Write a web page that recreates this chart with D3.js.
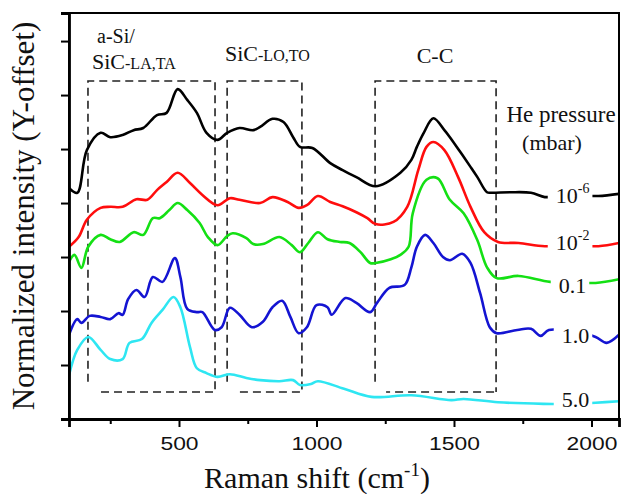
<!DOCTYPE html>
<html>
<head>
<meta charset="utf-8">
<script src="https://cdn.jsdelivr.net/npm/d3@7"></script>
<style>
  body { margin: 0; background: #fff; }
  svg { display: block; }
  .serif { font-family: "Liberation Serif", "Times New Roman", serif; fill: #111; }
</style>
</head>
<body>
<svg id="chart"></svg>
<script>
const WIDTH = 622;
const HEIGHT = 494;
const margin = { top: 13, right: 3, bottom: 75, left: 69 };

// [Raman shift (cm-1), normalized intensity with offset]
const black = [
  [100, 4.28], [130, 4.19], [165, 4.98], [215, 5.30], [250, 5.22], [295, 5.26], [335, 5.35],
  [370, 5.39], [420, 5.63], [455, 5.67], [495, 6.11], [530, 5.91], [565, 5.67], [600, 5.30],
  [640, 5.17], [675, 5.30], [720, 5.39], [770, 5.35], [795, 5.41], [840, 5.56], [880, 5.50],
  [915, 5.22], [940, 5.04], [985, 5.02], [1050, 4.74], [1095, 4.61], [1145, 4.48], [1215, 4.31],
  [1305, 4.56], [1345, 4.80], [1365, 5.04], [1390, 5.30], [1425, 5.57], [1465, 5.35], [1485, 5.22],
  [1525, 4.93], [1560, 4.67], [1585, 4.48], [1620, 4.20], [1635, 4.19], [1705, 4.20], [1780, 4.19],
  [1830, 4.11], [1865, 4.13], [1940, 4.15], [2025, 4.13], [2100, 4.17]
];
const red = [
  [100, 3.19], [135, 3.37], [165, 3.69], [215, 3.91], [250, 3.93], [295, 3.93], [345, 4.07],
  [385, 4.06], [420, 4.24], [455, 4.39], [495, 4.56], [540, 4.37], [585, 4.15], [640, 3.96],
  [685, 4.09], [720, 4.06], [795, 4.00], [840, 4.11], [895, 4.02], [935, 3.91], [965, 3.96],
  [1005, 4.13], [1050, 4.02], [1095, 3.94], [1145, 3.83], [1185, 3.72], [1215, 3.61], [1280, 3.65],
  [1330, 3.93], [1370, 4.61], [1400, 5.04], [1425, 5.13], [1465, 4.98], [1515, 4.48], [1560, 3.93],
  [1610, 3.46], [1660, 3.28], [1735, 3.26], [1830, 3.20], [1940, 3.22], [2025, 3.20], [2100, 3.26]
];
const green = [
  [100, 2.91], [120, 3.04], [145, 2.80], [170, 3.19], [215, 3.41], [250, 3.33], [285, 3.28],
  [335, 3.46], [370, 3.41], [405, 3.72], [430, 3.72], [465, 3.87], [495, 4.00], [530, 3.87],
  [575, 3.63], [605, 3.37], [640, 3.22], [675, 3.39], [695, 3.44], [745, 3.35], [770, 3.24],
  [805, 3.24], [865, 3.37], [910, 3.22], [940, 3.09], [970, 3.26], [1005, 3.46], [1040, 3.33],
  [1085, 3.28], [1120, 3.26], [1160, 3.09], [1195, 2.89], [1215, 2.89], [1270, 2.96], [1305, 3.04],
  [1335, 3.19], [1350, 3.81], [1400, 4.43], [1440, 4.46], [1485, 4.06], [1535, 3.81], [1585, 3.31],
  [1620, 2.81], [1655, 2.61], [1735, 2.65], [1850, 2.54], [1940, 2.54], [2015, 2.52], [2100, 2.59]
];
const blue = [
  [100, 1.56], [130, 1.85], [145, 1.78], [175, 1.91], [215, 1.89], [250, 1.85], [280, 1.96],
  [295, 1.93], [315, 2.22], [345, 2.39], [375, 2.26], [405, 2.63], [440, 2.54], [485, 2.98],
  [505, 2.63], [530, 2.04], [565, 1.98], [585, 1.98], [630, 1.65], [655, 1.70], [685, 2.06],
  [720, 1.93], [765, 1.70], [805, 1.80], [840, 2.07], [875, 2.19], [905, 1.89], [935, 1.59],
  [965, 1.70], [1000, 2.11], [1040, 2.07], [1055, 1.93], [1105, 2.24], [1145, 2.15], [1195, 1.98],
  [1220, 2.15], [1265, 2.43], [1320, 2.48], [1345, 2.81], [1365, 3.19], [1395, 3.41], [1425, 3.26],
  [1460, 3.00], [1485, 2.94], [1530, 3.06], [1560, 2.89], [1595, 2.33], [1630, 1.70], [1655, 1.59],
  [1730, 1.65], [1780, 1.67], [1815, 1.54], [1845, 1.65], [1940, 1.61], [2015, 1.52], [2055, 1.41],
  [2100, 1.56]
];
const cyan = [
  [100, 0.81], [130, 1.28], [170, 1.52], [215, 1.28], [250, 1.11], [295, 1.11], [320, 1.41],
  [365, 1.48], [400, 1.78], [440, 2.02], [480, 2.26], [505, 2.07], [540, 1.33], [565, 0.94],
  [600, 0.85], [640, 0.78], [685, 0.83], [745, 0.76], [795, 0.72], [865, 0.70], [915, 0.72],
  [940, 0.63], [980, 0.65], [1005, 0.70], [1100, 0.56], [1200, 0.41], [1345, 0.44], [1490, 0.35],
  [1535, 0.37], [1660, 0.31], [1825, 0.28], [1940, 0.28], [2015, 0.30], [2100, 0.33]
];

const seriesData = [black, red, green, blue, cyan];
const seriesColors = ["#000000", "#ff0d0d", "#14e014", "#1414d2", "#2ee6f2"];
const pressureBase = ["10", "10", "0.1", "1.0", "5.0"];
const pressureSup = ["-6", "-2", "", "", ""];
const labelY = [4.0, 3.13, 2.33, 1.41, 0.22];

const xMajor = [500, 1000, 1500, 2000];
const xMinor = [250, 750, 1250, 1750];
const yTicks = [1, 2, 3, 4, 5, 6, 7];

// band boxes: [from, to] in cm-1
const bands = [[169, 631], [675, 947], [1213, 1653]];

const innerW = WIDTH - margin.left - margin.right;
const innerH = HEIGHT - margin.top - margin.bottom;

const x = d3.scaleLinear().domain([100, 2100]).range([margin.left, margin.left + innerW]);
const y = d3.scaleLinear().domain([0, 7.52]).range([margin.top + innerH, margin.top]);

const svg = d3.select("#chart").attr("width", WIDTH).attr("height", HEIGHT);
svg.append("rect").attr("width", WIDTH).attr("height", HEIGHT).attr("fill", "#fff");

// dashed band boxes
const boxTop = y(6.26), boxLeftEnd = y(0.69), boxBottom = y(0.5);
bands.forEach(([a, b]) => {
  const x0 = x(a), x1 = x(b);
  const p = `M${x0},${boxLeftEnd}V${boxTop}H${x1}V${boxBottom}M${x1 - 2},${boxBottom}H${x0 + 11}`;
  svg.append("path").attr("d", p)
    .attr("fill", "none").attr("stroke", "#222")
    .attr("stroke-width", 1.6).attr("stroke-dasharray", "8,5");
});

// curves
const line = d3.line()
  .x(d => x(d[0]))
  .y(d => y(d[1]))
  .curve(d3.curveCatmullRom.alpha(0.5));

svg.append("defs").append("clipPath").attr("id", "clip")
  .append("rect").attr("x", margin.left).attr("y", margin.top)
  .attr("width", innerW).attr("height", innerH);

const curves = svg.append("g").attr("clip-path", "url(#clip)");
seriesData.forEach((d, i) => {
  curves.append("path").datum(d)
    .attr("d", line)
    .attr("fill", "none")
    .attr("stroke", seriesColors[i])
    .attr("stroke-width", 2.6)
    .attr("stroke-linejoin", "round");
});

// pressure labels, with a white knock-out behind each
seriesData.forEach((d, i) => {
  const g = svg.append("g");
  const t = g.append("text").attr("class", "serif")
    .attr("x", x(1870) + (i > 1 ? 3 : 0) + (i > 2 ? 3 : 0))
    .attr("y", y(labelY[i]))
    .style("font-size", "22px");
  t.append("tspan").text(pressureBase[i]);
  if (pressureSup[i]) {
    t.append("tspan").text(pressureSup[i]).attr("dy", -10).style("font-size", "14px");
  }
  const bb = t.node().getBBox();
  g.insert("rect", "text")
    .attr("x", bb.x - 8).attr("y", bb.y)
    .attr("width", bb.width + 11).attr("height", bb.height)
    .attr("fill", "#fff");
});

// frame
svg.append("rect")
  .attr("x", margin.left).attr("y", margin.top)
  .attr("width", innerW).attr("height", innerH)
  .attr("fill", "none").attr("stroke", "#000").attr("stroke-width", 2);

// x axis
const xAxis = svg.append("g")
  .attr("transform", `translate(0,${margin.top + innerH})`)
  .call(d3.axisBottom(x).tickValues(xMajor).tickSize(8).tickPadding(10).tickFormat(d3.format("d")));
xAxis.select(".domain").attr("stroke-width", 2.8);
xAxis.selectAll(".tick line").attr("stroke-width", 2);
xAxis.selectAll(".tick text")
  .style("font-family", "'Liberation Sans', Arial, sans-serif")
  .style("font-size", "18px")
  .attr("fill", "#111")
  .attr("transform", "scale(1.27,1)");

const xMinorAxis = svg.append("g")
  .attr("transform", `translate(0,${margin.top + innerH})`)
  .call(d3.axisBottom(x).tickValues(xMinor).tickSize(5).tickFormat(""));
xMinorAxis.select(".domain").remove();
xMinorAxis.selectAll(".tick line").attr("stroke-width", 2);

// y axis
const yAxis = svg.append("g")
  .attr("transform", `translate(${margin.left},0)`)
  .call(d3.axisLeft(y).tickValues(yTicks).tickSize(8).tickFormat(""));
yAxis.select(".domain").attr("stroke-width", 2.8);
yAxis.selectAll(".tick line").attr("stroke-width", 2);

// axis titles
const xt = svg.append("text").attr("class", "serif")
  .attr("x", 317).attr("y", 488)
  .attr("text-anchor", "middle")
  .style("font-size", "30px");
xt.append("tspan").text("Raman shift (cm");
xt.append("tspan").text("-1").attr("dy", -12).style("font-size", "19px");
xt.append("tspan").text(")").attr("dy", 12);

svg.append("text").attr("class", "serif")
  .attr("transform", "translate(34,216) rotate(-90)")
  .attr("text-anchor", "middle")
  .style("font-size", "31px")
  .text("Normalized intensity (Y-offset)");

// band annotations
const ann = svg.append("g").attr("class", "serif");
ann.append("text").attr("x", 97).attr("y", 43).style("font-size", "20px").text("a-Si/");
const a1 = ann.append("text").attr("x", 92).attr("y", 69).style("font-size", "22px");
a1.append("tspan").text("SiC");
a1.append("tspan").text("-LA,TA").style("font-size", "16px");
const a2 = ann.append("text").attr("x", 225).attr("y", 61).style("font-size", "22px");
a2.append("tspan").text("SiC");
a2.append("tspan").text("-LO,TO").style("font-size", "16px");
ann.append("text").attr("x", 435).attr("y", 63).attr("text-anchor", "middle")
  .style("font-size", "22px").text("C-C");

ann.append("text").attr("x", 561).attr("y", 122).attr("text-anchor", "middle")
  .style("font-size", "23px").text("He pressure");
ann.append("text").attr("x", 552).attr("y", 150).attr("text-anchor", "middle")
  .style("font-size", "22px").text("(mbar)");
</script>
</body>
</html>
